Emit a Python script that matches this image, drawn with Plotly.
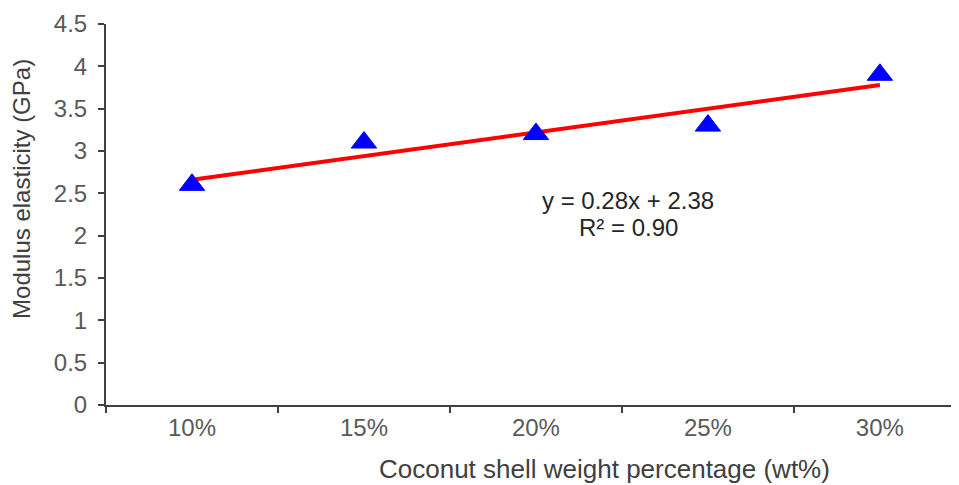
import numpy as np
import plotly.graph_objects as go

categories = ["10%", "15%", "20%", "25%", "30%"]
modulus = [2.6, 3.1, 3.2, 3.3, 3.9]
y_ticks = [0, 0.5, 1, 1.5, 2, 2.5, 3, 3.5, 4, 4.5]
y_tick_labels = ["0", "0.5", "1", "1.5", "2", "2.5", "3", "3.5", "4", "4.5"]
x_title = "Coconut shell weight percentage (wt%)"
y_title = "Modulus elasticity (GPa)"

# linear trendline (Excel-style, x = 1..n)
xi = np.arange(1, len(modulus) + 1)
slope, intercept = np.polyfit(xi, modulus, 1)
fit = slope * xi + intercept
ss_res = float(np.sum((np.array(modulus) - fit) ** 2))
ss_tot = float(np.sum((np.array(modulus) - np.mean(modulus)) ** 2))
r2 = 1 - ss_res / ss_tot

FONT = "Liberation Sans, Arial, sans-serif"

fig = go.Figure()
fig.add_trace(go.Scatter(
    x=categories, y=list(fit), mode="lines",
    line=dict(color="#ff0000", width=4), showlegend=False, hoverinfo="skip",
))
fig.add_trace(go.Scatter(
    x=categories, y=modulus, mode="markers",
    marker=dict(symbol="triangle-up", size=22, color="#0000ff",
                line=dict(color="#0000ff", width=1)),
    showlegend=False,
))

# trendline equation
fig.add_annotation(
    x=0.612, y=0.538, xref="paper", yref="paper",
    text=f"y = {slope:.2f}x + {intercept:.2f}",
    showarrow=False, xanchor="center", yanchor="middle",
    font=dict(family=FONT, size=24, color="#262626"),
)
fig.add_annotation(
    x=0.612, y=0.467, xref="paper", yref="paper",
    text=f"R² = {r2:.2f}",
    showarrow=False, xanchor="center", yanchor="middle",
    font=dict(family=FONT, size=24, color="#262626"),
)
# axis titles
fig.add_annotation(
    x=0.584, y=-0.168, xref="paper", yref="paper",
    text=x_title, showarrow=False, xanchor="center", yanchor="middle",
    font=dict(family=FONT, size=26, color="#404040"),
)
fig.add_annotation(
    x=-0.0985, y=0.567, xref="paper", yref="paper",
    text=y_title, showarrow=False, xanchor="center", yanchor="middle",
    textangle=-90,
    font=dict(family=FONT, size=24, color="#404040"),
)

# page body has an 8px default margin; size the figure to fill the rest
fig.update_layout(
    width=951, height=477,
    margin=dict(l=98, r=0, t=16, b=80),
    plot_bgcolor="white", paper_bgcolor="white",
    font=dict(family=FONT, size=24, color="#595959"),
    xaxis=dict(
        type="category", range=[-0.5, 4.46], automargin=False,
        tickson="boundaries", ticks="outside", ticklen=6, tickwidth=2,
        tickcolor="#404040",
        showline=True, linecolor="#404040", linewidth=2,
        showgrid=False, zeroline=False,
        tickfont=dict(family=FONT, size=24, color="#595959"),
    ),
    yaxis=dict(
        range=[0, 4.5], tickvals=y_ticks, ticktext=y_tick_labels,
        automargin=False,
        ticks="outside", ticklen=6, tickwidth=2, tickcolor="#404040",
        ticklabelstandoff=6,
        showline=True, linecolor="#404040", linewidth=2,
        showgrid=False, zeroline=False,
        tickfont=dict(family=FONT, size=24, color="#595959"),
    ),
)

fig.write_html("out.html")
